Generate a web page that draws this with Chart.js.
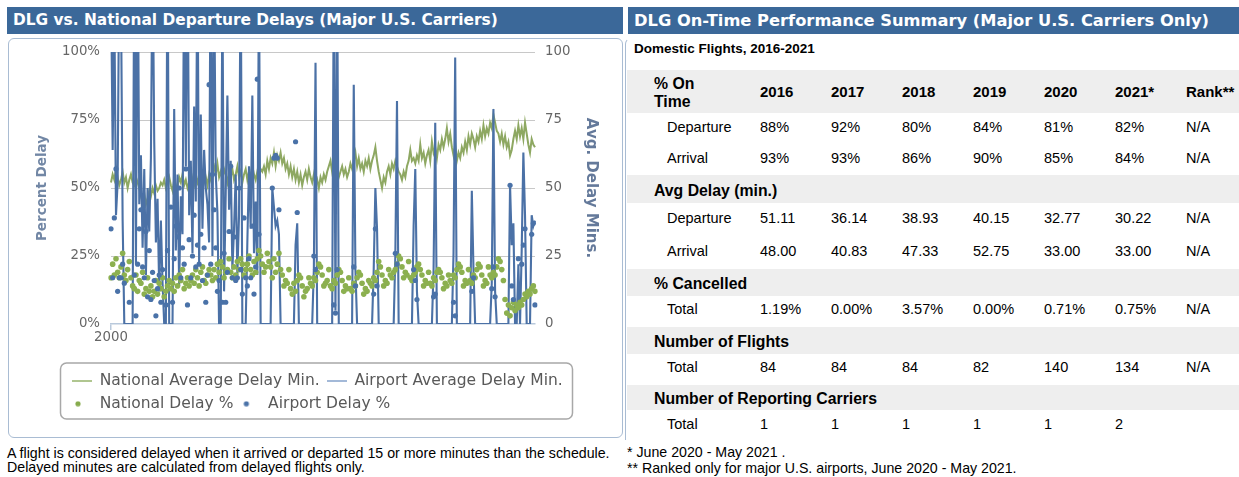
<!DOCTYPE html>
<html>
<head>
<meta charset="utf-8">
<script src="https://cdn.jsdelivr.net/npm/chart.js@4.4.0/dist/chart.umd.min.js"></script>
<style>
  body { margin: 0; background: #fff; width: 1239px; height: 477px; overflow: hidden; position: relative;
         font-family: "Liberation Sans", Arial, sans-serif; color: #000; }
  .bar { position: absolute; top: 7px; height: 27px; background: #3b6899; color: #fff; white-space: nowrap;
         font: bold 15.4px "DejaVu Sans", Verdana, sans-serif; line-height: 27px; padding-left: 6px; box-sizing: border-box; }
  #chartBox { position: absolute; left: 8px; top: 38px; width: 615px; height: 400px; box-sizing: border-box;
              border: 1px solid #a9bcd3; border-radius: 6px; }
  #chartWrap { position: absolute; left: 0; top: 0; width: 613px; height: 398px; }
  #tableBox { position: absolute; left: 625px; top: 38px; width: 620px; height: 402px; box-sizing: border-box;
              border-left: 1px solid #a9bcd3; border-top: 1px solid transparent; border-top-left-radius: 6px; }
  .sub { position: absolute; left: 634px; top: 41px; font-weight: bold; font-size: 13.5px; }
  table { position: absolute; left: 627px; top: 70px; width: 612px; border-collapse: collapse; table-layout: fixed; }
  td { padding: 0; font-size: 14.5px; white-space: nowrap; vertical-align: middle; }
  tr.grey td { background: #eeeeee; }
  tr.grey td.lab { font-weight: bold; font-size: 15.8px; padding-left: 27px; padding-top: 3px; }
  tr.head td { font-weight: bold; font-size: 15px; line-height: 18px; padding-top: 0; }
  tr.total td { padding-bottom: 5px; }
  tr.last td { padding-bottom: 0; }
  td.lab { padding-left: 40px; }
  .note { position: absolute; font-size: 14.2px; white-space: nowrap; }
</style>
</head>
<body>
<div class="bar" style="left:7px;width:616px;">DLG vs. National Departure Delays (Major U.S. Carriers)</div>
<div class="bar" style="left:628px;width:611px;font-size:16.3px;">DLG On-Time Performance Summary (Major U.S. Carriers Only)</div>

<div id="chartBox"><div id="chartWrap"><canvas id="delayChart"></canvas></div></div>
<div class="note" style="left:7px;top:446px;line-height:14px;">A flight is considered delayed when it arrived or departed 15 or more minutes than the schedule.<br>Delayed minutes are calculated from delayed flights only.</div>

<div id="tableBox"></div>
<div class="sub">Domestic Flights, 2016-2021</div>
<table id="perfTable"></table>
<div class="note" style="left:627px;top:444px;line-height:16px;">* June 2020 - May 2021 .<br>** Ranked only for major U.S. airports, June 2020 - May 2021.</div>

<script>
const _ = null;

// national average delay minutes, one value per month from 2000
const natMins = [
  52, 55, 53, 57, 54, 51, 53, 56, 52, 54, 50, 53,
  55, 52, 51, 54, 52, 50, 47, 45, 48, 44, 46, 49,
  47, 50, 48, 51, 49, 50, 52, 51, 53, 50, 52, 54,
  51, 49, 53, 51, 50, 54, 52, 55, 51, 53, 50, 52,
  56, 53, 51, 54, 52, 55, 53, 50, 52, 54, 51, 55,
  53, 56, 58, 55, 59, 54, 56, 53, 57, 55, 52, 56,
  54, 57, 53, 55, 58, 54, 56, 52, 55, 57, 53, 56,
  54, 58, 55, 53, 56, 54, 57, 56, 58, 55, 60, 57,
  61, 59, 63, 58, 62, 60, 63, 59, 61, 57, 59, 55,
  58, 54, 57, 53, 56, 52, 55, 51, 54, 56, 53, 57,
  54, 52, 55, 51, 53, 50, 54, 52, 55, 53, 56, 58,
  60, 56, 59, 55, 57, 54, 56, 58, 55, 57, 54, 56,
  59, 57, 60, 63, 58, 61, 57, 59, 56, 60, 58, 61,
  57, 60, 62, 65, 60, 56, 53, 50, 54, 52, 56, 58,
  55, 59, 57, 60, 58, 56, 55, 53, 56, 54, 58, 60,
  64, 60, 61, 59, 62, 60, 66, 61, 63, 59, 62, 64,
  60, 67, 63, 65, 61, 66, 64, 68, 65, 68, 72, 67,
  70, 65, 62, 66, 60, 63, 61, 65, 63, 67, 64, 69,
  66, 70, 68, 65, 69, 67, 71, 68, 73, 69, 72, 70,
  74, 72, 77, 74, 71, 70, 67, 70, 66, 69, 65, 67,
  62, 64, 68, 71, 68, 73, 69, 72, 68, 74, 70, 66,
  63, 68, 66, 65
];

// airport average delay minutes (spikes above 100 run off the top)
const airportMins = [
  125, 64, 118, 40, 52, 135, 120, 38, 0, 0, 0, 0,
  0, 0, 140, 22, 150, 44, 62, 28, 57, 18, 50, 34,
  61, 140, 67, 30, 46, 12, 38, 15, 0, 0, 150, 0,
  0, 0, 79, 27, 55, 14, 47, 33, 135, 58, 150, 40,
  60, 26, 80, 45, 140, 22, 77, 35, 64, 50, 44, 30,
  150, 25, 130, 55, 41, 0, 0, 125, 12, 48, 84, 42,
  60, 20, 35, 55, 18, 40, 135, 0, 0, 0, 30, 58,
  35, 84, 26, 45, 18, 130, 0, 0, 0, 0, 0, 0,
  0, 50, 43, 36, 38, 33, 0, 0, 0, 0, 0, 0,
  0, 0, 0, 29, 37, 0, 0, 0, 0, 0, 0, 0,
  0, 0, 20, 96, 0, 0, 0, 0, 0, 0, 0, 0,
  0, 0, 130, 5, 135, 0, 0, 0, 0, 0, 0, 0,
  0, 0, 88, 20, 0, 0, 0, 0, 0, 0, 0, 0,
  0, 0, 20, 50, 35, 0, 0, 0, 0, 0, 0, 0,
  0, 0, 0, 25, 82, 0, 0, 0, 0, 0, 0, 0,
  0, 0, 36, 57, 12, 0, 0, 0, 0, 0, 0, 0,
  0, 0, 20, 74, 0, 0, 0, 0, 0, 0, 0, 0,
  0, 0, 26, 98, 0, 0, 0, 0, 0, 0, 0, 0,
  0, 49, 20, 0, 0, 0, 0, 0, 0, 0, 0, 0,
  0, 15, 79, 12, 0, 0, 0, 0, 0, 0, 0, 0,
  51, 29, 37, 0, 0, 22, 0, 27, 63, 40, 0, 0,
  0, 40, 36, 38
];

// national delay %
const natPct = [
  17, 22, 18, 24, 19, 17, 21, 26, 18, 16, 20, 23,
  17, 14, 13, 18, 12, 16, 15, 19, 11, 13, 17, 12,
  14, 10, 12, 16, 11, 15, 13, 17, 10, 12, 14, 16,
  13, 15, 12, 17, 14, 18, 16, 20, 13, 15, 17, 14,
  16, 18, 15, 20, 17, 14, 19, 21, 16, 15, 18, 20,
  18, 16, 20, 17, 22, 19, 23, 21, 17, 19, 20, 24,
  19, 17, 21, 18, 23, 20, 24, 22, 18, 20, 22, 25,
  20, 18, 23, 19, 24, 27, 25, 22, 19, 21, 26, 23,
  21, 17, 24, 19, 22, 26, 20, 18, 14, 16, 15, 20,
  13, 11, 15, 12, 16, 18, 17, 14, 10, 12, 13, 17,
  15, 14, 17, 16, 19, 22, 21, 18, 14, 15, 16, 20,
  14, 13, 16, 15, 18, 20, 19, 16, 12, 14, 13, 17,
  13, 12, 15, 14, 17, 19, 18, 15, 11, 13, 12, 16,
  15, 14, 17, 16, 19, 23, 21, 18, 14, 16, 15, 20,
  18, 17, 19, 20, 22, 25, 24, 21, 17, 19, 18, 23,
  17, 16, 18, 19, 21, 22, 20, 18, 14, 16, 15, 19,
  15, 14, 17, 16, 19, 20, 19, 17, 13, 15, 14, 18,
  16, 15, 18, 17, 20, 22, 21, 19, 14, 16, 15, 20,
  16, 15, 18, 17, 20, 22, 21, 18, 14, 16, 15, 21,
  18, 17, 19, 18, 21, 24, 23, 20, 16, 9, 4, 7,
  3, 6, 8, 5, 7, 6, 8, 7, 9, 11, 10, 12,
  11, 13, 14, 12
];

// airport delay % (no dot in months without flights)
const airportPct = [
  35, 17, 39, 57, 12, 17, 17, 22, 15, _, _, 8,
  _, _, 18, 3, 22, 35, 42, 21, 17, 34, 10, 27,
  9, 19, 16, 3, 13, 18, 8, 20, _, 7, 27, _,
  43, 8, 24, 36, 32, 50, 17, 28, 22, 57, 7, 31,
  17, 25, 40, 21, 29, 22, 33, 16, 28, 8, 18, 88,
  22, 55, 42, 28, 12, 16, _, 8, 26, 8, 19, 34,
  58, 17, 32, 16, 17, 50, 20, 11, 39, 17, 14, 24,
  17, 36, 11, 21, 90, 33, _, _, _, _, _, _,
  _, 50, 61, 62, 61, 42, _, _, _, _, _, _,
  _, _, _, 67, 41, _, _, _, _, _, _, _,
  _, _, 25, 20, _, _, _, _, _, _, _, _,
  _, _, 7, 4, 20, _, _, _, _, _, _, _,
  _, _, 21, 14, _, _, _, _, _, _, _, _,
  _, _, 11, 35, 14, _, _, _, _, _, _, _,
  _, _, _, 26, 22, _, _, _, _, _, _, _,
  _, _, 20, 16, 9, _, _, _, _, _, _, _,
  _, _, 10, 11, _, _, _, _, _, _, _, _,
  _, _, 8, 3, _, _, _, _, _, _, _, _,
  _, 12, 17, _, _, _, _, _, _, _, _, _,
  _, 13, 21, 10, _, _, _, _, _, _, _, _,
  51, 14, 9, _, _, 24, _, 22, 29, 35, _, _,
  _, 33, 37, 7
];

const startYear = 2000;
const pctTicks = [0, 25, 50, 75, 100];

// summary table
const years = ['2016', '2017', '2018', '2019', '2020', '2021*'];
const depOnTime = [88, 92, 80, 84, 81, 82];
const arrOnTime = [93, 93, 86, 90, 85, 84];
const depDelay = [51.11, 36.14, 38.93, 40.15, 32.77, 30.22];
const arrDelay = [48.00, 40.83, 47.33, 52.75, 33.00, 33.00];
const cancelled = [1.19, 0.00, 3.57, 0.00, 0.71, 0.75];
const flights = [84, 84, 84, 82, 140, 134];
const carriers = [1, 1, 1, 1, 1, 2];

const labels = natMins.map((v, i) => (startYear + Math.floor(i / 12)) + '-' + String(i % 12 + 1).padStart(2, '0'));

function lineIcon(color) {
  const c = document.createElement('canvas');
  c.width = 20; c.height = 2;
  const g = c.getContext('2d');
  g.fillStyle = color; g.fillRect(0, 0, 20, 2);
  return c;
}
function dotIcon(color) {
  const c = document.createElement('canvas');
  c.width = 20; c.height = 6;
  const g = c.getContext('2d');
  g.fillStyle = color; g.beginPath(); g.arc(6, 3, 2.6, 0, Math.PI * 2); g.fill();
  return c;
}
// indexed by dataset index
const legendIcons = [dotIcon('#4a72a8'), dotIcon('#86ab4c'), lineIcon('#a3b9d8'), lineIcon('#b0c690')];

const legendFrame = {
  id: 'legendFrame',
  afterLayout(chart) { chart.legend.left = 56; },
  afterDraw(chart) {
    const lg = chart.legend, ctx = chart.ctx;
    ctx.save();
    ctx.strokeStyle = '#a8a8a8';
    ctx.lineWidth = 1.5;
    ctx.beginPath();
    ctx.roundRect(51.5, lg.top - 3.5, 512, 56, 6);
    ctx.stroke();
    ctx.restore();
  }
};

const tickFont = { family: '"DejaVu Sans", Verdana, sans-serif', size: 13.3 };
const noTick = 'rgba(0,0,0,0)';

new Chart(document.getElementById('delayChart'), {
  type: 'line',
  data: {
    labels: labels,
    datasets: [
      { label: 'Airport Delay %', data: airportPct, yAxisID: 'y', showLine: false,
        pointRadius: 2.6, pointHoverRadius: 2.6, pointBorderWidth: 0,
        pointBackgroundColor: '#4a72a8', borderColor: '#4a72a8', backgroundColor: '#4a72a8' },
      { label: 'National Delay %', data: natPct, yAxisID: 'y', showLine: false,
        pointRadius: 2.8, pointHoverRadius: 2.8, pointBorderWidth: 0,
        pointBackgroundColor: '#8cb050', borderColor: '#8cb050', backgroundColor: '#8cb050' },
      { label: 'Airport Average Delay Min.', data: airportMins, yAxisID: 'y1',
        borderColor: '#4b71a6', borderWidth: 2.1, pointRadius: 0, tension: 0 },
      { label: 'National Average Delay Min.', data: natMins, yAxisID: 'y1',
        borderColor: '#8ea862', borderWidth: 2, pointRadius: 0, tension: 0 }
    ]
  },
  options: {
    responsive: true,
    maintainAspectRatio: false,
    animation: false,
    layout: { padding: { left: 21, right: 18, top: 13, bottom: 15.5 } },
    plugins: {
      tooltip: { enabled: false },
      legend: {
        position: 'bottom',
        align: 'start',
        labels: {
          usePointStyle: true,
          pointStyleWidth: 20,
          boxHeight: 6,
          padding: 7,
          color: '#595959',
          font: { family: '"DejaVu Sans", Verdana, sans-serif', size: 15.5 },
          sort: (a, b) => b.datasetIndex - a.datasetIndex,
          generateLabels(chart) {
            const items = Chart.defaults.plugins.legend.labels.generateLabels(chart);
            items.forEach(it => { it.pointStyle = legendIcons[it.datasetIndex]; });
            return items;
          }
        }
      }
    },
    scales: {
      x: {
        type: 'category',
        offset: false,
        afterBuildTicks: axis => { axis.ticks = axis.ticks.filter(t => t.value === 0); },
        afterFit: axis => { axis.height = 42.5; },
        ticks: { autoSkip: false, maxRotation: 0, padding: 0, color: '#666', font: tickFont,
                 callback: v => labels[v].slice(0, 4) },
        grid: { drawOnChartArea: false, drawTicks: true, tickLength: 6, color: '#b9c9dc', lineWidth: 1.5 },
        border: { color: '#b9c9dc', width: 1.5 }
      },
      y: {
        position: 'left',
        min: 0, max: 100,
        afterBuildTicks: axis => { axis.ticks = pctTicks.map(v => ({ value: v })); },
        afterFit: axis => { axis.width = 81; },
        ticks: { padding: 3, color: '#666', font: tickFont, callback: v => v + '%' },
        grid: { drawTicks: true, tickLength: 8, tickColor: noTick,
                color: c => c.tick && c.tick.value === 0 ? noTick : '#c8c8c8' },
        border: { display: false },
        title: { display: true, text: 'Percent Delay', color: '#7287a5',
                 font: { family: '"DejaVu Sans", Verdana, sans-serif', size: 13.5, weight: 'bold' } }
      },
      y1: {
        position: 'right',
        min: 0, max: 100,
        afterBuildTicks: axis => { axis.ticks = pctTicks.map(v => ({ value: v })); },
        afterFit: axis => { axis.width = 69; },
        ticks: { padding: 2, color: '#666', font: tickFont },
        grid: { drawOnChartArea: false, drawTicks: true, tickLength: 8, tickColor: noTick },
        border: { display: false },
        title: { display: true, text: 'Avg. Delay Mins.', color: '#64799a',
                 font: { family: '"DejaVu Sans", Verdana, sans-serif', size: 15, weight: 'bold' } }
      }
    }
  },
  plugins: [legendFrame]
});

// summary table
const pct = v => v + '%';
const fix2 = v => v.toFixed(2);
const fixPct = v => v.toFixed(2) + '%';
const tableRows = [
  { kind: 'head', label: '% On<br>Time', cells: years, rank: 'Rank**' },
  { label: 'Departure', cells: depOnTime.map(pct), rank: 'N/A' },
  { label: 'Arrival', cells: arrOnTime.map(pct), rank: 'N/A' },
  { kind: 'grey', label: 'Avg Delay (min.)' },
  { label: 'Departure', cells: depDelay.map(fix2), rank: 'N/A' },
  { label: 'Arrival', cells: arrDelay.map(fix2), rank: 'N/A' },
  { kind: 'grey', label: '% Cancelled' },
  { kind: 'total', label: 'Total', cells: cancelled.map(fixPct), rank: 'N/A' },
  { kind: 'grey', label: 'Number of Flights' },
  { kind: 'total', label: 'Total', cells: flights.map(String), rank: 'N/A' },
  { kind: 'grey', label: 'Number of Reporting Carriers' },
  { kind: 'total last', label: 'Total', cells: carriers.map(String), rank: '' }
];
const rowHeights = [43, 28, 34, 28, 30, 36, 27, 31, 27, 31, 25, 28];
const colWidths = [133, 71, 71, 71, 71, 71, 71, 53];

const table = document.getElementById('perfTable');
const cg = document.createElement('colgroup');
colWidths.forEach(w => { const c = document.createElement('col'); c.style.width = w + 'px'; cg.appendChild(c); });
table.appendChild(cg);
tableRows.forEach((r, i) => {
  const tr = document.createElement('tr');
  tr.style.height = rowHeights[i] + 'px';
  if (r.kind === 'head') tr.className = 'grey head';
  else if (r.kind) tr.className = r.kind;
  const lab = document.createElement('td');
  lab.className = 'lab';
  lab.innerHTML = r.label;
  if (r.kind === 'head') lab.style.paddingLeft = '27px';
  tr.appendChild(lab);
  if (r.kind === 'grey') {
    lab.colSpan = 8;
  } else {
    r.cells.concat([r.rank]).forEach(t => {
      const td = document.createElement('td');
      td.textContent = t;
      tr.appendChild(td);
    });
  }
  table.appendChild(tr);
});
</script>
</body>
</html>
